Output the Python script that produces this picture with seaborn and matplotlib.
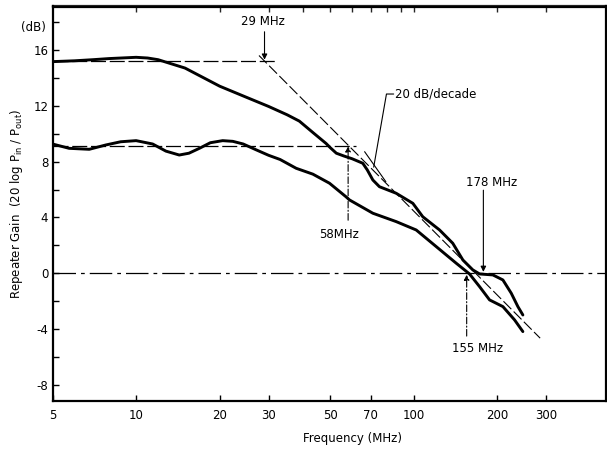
import numpy as np
import pandas as pd
import matplotlib
matplotlib.use("Agg")
import matplotlib.pyplot as plt
from matplotlib.ticker import FixedLocator, NullLocator, NullFormatter
import seaborn as sns

# ---- data ----
freq_hi = [5, 6, 7, 8, 10, 11, 12, 15, 20, 25, 30, 35, 38.7, 43.5, 48.3, 50, 52.6,
           56, 60, 65.5, 68, 71.2, 75.2, 86.4, 99.2, 107.7, 123.8, 138.1, 150.2,
           163.1, 172.5, 192.6, 209.3, 224.3, 237, 247]
gain_hi = [15.16, 15.22, 15.3, 15.38, 15.47, 15.42, 15.3, 14.7, 13.4, 12.6, 11.95,
           11.35, 10.9, 10.05, 9.3, 9.0, 8.6, 8.4, 8.2, 7.88, 7.4, 6.68, 6.2, 5.73,
           5.01, 4.05, 3.10, 2.15, 0.95, 0.24, -0.05, -0.12, -0.48, -1.43, -2.39, -2.99]

freq_lo = [5, 5.74, 6.78, 7.78, 8.8, 10.0, 11.47, 12.8, 14.3, 15.5, 16.9, 18.5, 20.5,
           22.3, 24.3, 27, 30, 33, 37.7, 43.3, 49.7, 56.9, 58.7, 71.2, 86.4, 102,
           120.4, 142.1, 158.7, 172.5, 187.4, 209.3, 230.5, 247]
gain_lo = [9.26, 8.95, 8.88, 9.19, 9.42, 9.50, 9.26, 8.75, 8.47, 8.6, 8.95, 9.35, 9.50,
           9.45, 9.26, 8.85, 8.45, 8.15, 7.52, 7.1, 6.45, 5.49, 5.25, 4.30, 3.70, 3.10,
           1.91, 0.72, -0.05, -0.96, -1.91, -2.39, -3.34, -4.18]

x_ticks = [5, 10, 20, 30, 50, 70, 100, 200, 300]
x_tick_labels = ["5", "10", "20", "30", "50", "70", "100", "200", "300"]
top_ticks = [10, 20, 30, 40, 50, 60, 70, 80, 90, 100, 200, 300]
y_major = [-8, -4, 0, 4, 8, 12, 16]
y_minor = [-6, -2, 2, 6, 10, 14, 18]

hi_level, hi_end = 15.2, 32
lo_level, lo_end = 9.1, 62
corner_freq, corner_gain, slope_db = 29, 15.2, 20
asym_f = [27.7, 285]

sns.set_theme(style="ticks")
plt.rcParams['font.family'] = ['DejaVu Sans']
plt.rcParams['font.size'] = 8.5
plt.rcParams['text.color'] = 'black'
plt.rcParams['axes.labelcolor'] = 'black'
plt.rcParams['axes.unicode_minus'] = False

W, H = 607, 449
fig = plt.figure(figsize=(W / 100, H / 100), dpi=100)
L, R, T, B = 52.5, 605.5, 6.5, 400.7
ax = fig.add_axes([L / W, 1 - B / H, (R - L) / W, (B - T) / H])

df = pd.concat([
    pd.DataFrame({"freq": freq_hi, "gain": gain_hi, "curve": "hi"}),
    pd.DataFrame({"freq": freq_lo, "gain": gain_lo, "curve": "lo"}),
])
sns.lineplot(data=df, x="freq", y="gain", hue="curve", palette=["black", "black"],
             estimator=None, sort=False, lw=2.1, legend=False, ax=ax,
             solid_joinstyle="round", solid_capstyle="round")

ax.set_xscale("log")
ax.set_xlim(5, 490)
ax.set_ylim(-9.13, 19.11)

# reference lines
ax.plot([5, hi_end], [hi_level, hi_level], color="black", lw=0.9, dashes=(12, 3))
ax.plot([5, lo_end], [lo_level, lo_level], color="black", lw=0.9, dashes=(12, 3))
ax.axhline(0, color="black", lw=0.9, dashes=(18, 4, 3, 4))
asym_g = [corner_gain - slope_db * np.log10(f / corner_freq) for f in asym_f]
ax.plot(asym_f, asym_g, color="black", lw=0.8, dashes=(10, 3))

# annotations
ap = dict(arrowstyle="-|>", lw=0.8, color="black", shrinkA=0, shrinkB=0,
          mutation_scale=8)
ax.annotate("", xy=(29, 15.3), xytext=(29, 17.3), arrowprops=ap)
ax.text(28.6, 18.0, "29 MHz", ha="center", va="center")
ax.annotate("", xy=(58, 9.1), xytext=(58, 3.8),
            arrowprops=dict(ap, linestyle=(0, (6, 2, 1, 2))))
ax.text(53.6, 2.75, "58MHz", ha="center", va="center")
ax.annotate("", xy=(178, 0.1), xytext=(178, 5.95), arrowprops=ap)
ax.text(190, 6.5, "178 MHz", ha="center", va="center")
ax.annotate("", xy=(155, -0.1), xytext=(155, -4.5),
            arrowprops=dict(ap, linestyle=(0, (6, 2, 1, 2))))
ax.text(169, -5.4, "155 MHz", ha="center", va="center")
ax.text(85.5, 12.84, "20 dB/decade", ha="left", va="center")
ax.plot([84.6, 79.7, 71.7], [12.84, 12.84, 7.6], color="black", lw=0.8)
ax.plot([66.5, 79.3], [8.71, 6.56], color="black", lw=0.8)

# ticks
ax.xaxis.set_major_locator(FixedLocator(x_ticks))
ax.set_xticklabels(x_tick_labels)
ax.xaxis.set_minor_locator(NullLocator())
ax.yaxis.set_major_locator(FixedLocator(y_major))
ax.yaxis.set_minor_locator(FixedLocator(y_minor))
ax.yaxis.set_minor_formatter(NullFormatter())
ax.tick_params(axis="both", which="both", direction="in", length=4.5, width=1.0,
               labelsize=8.5, color="black", labelcolor="black")
ax.tick_params(axis="x", pad=6)
ax.tick_params(axis="y", pad=3)

top = ax.secondary_xaxis("top")
top.xaxis.set_major_locator(FixedLocator(top_ticks))
top.xaxis.set_minor_locator(NullLocator())
top.tick_params(direction="in", length=4.5, width=1.0, labeltop=False)
top.spines["top"].set_linewidth(1.6)

for s in ax.spines.values():
    s.set_linewidth(1.6)
    s.set_color("black")

ax.text(-0.012, 17.6, "(dB)", transform=ax.get_yaxis_transform(),
        ha="right", va="center")
ax.set_xlabel("Frequency (MHz)", fontsize=8.5)
ax.xaxis.set_label_coords(0.543, -0.08)
ax.set_ylabel(r"Repeater Gain  (20 log P$_{\rm in}$ / P$_{\rm out}$)", fontsize=8.5,
              labelpad=6)

fig.savefig("out.png", dpi=100, facecolor="white")
